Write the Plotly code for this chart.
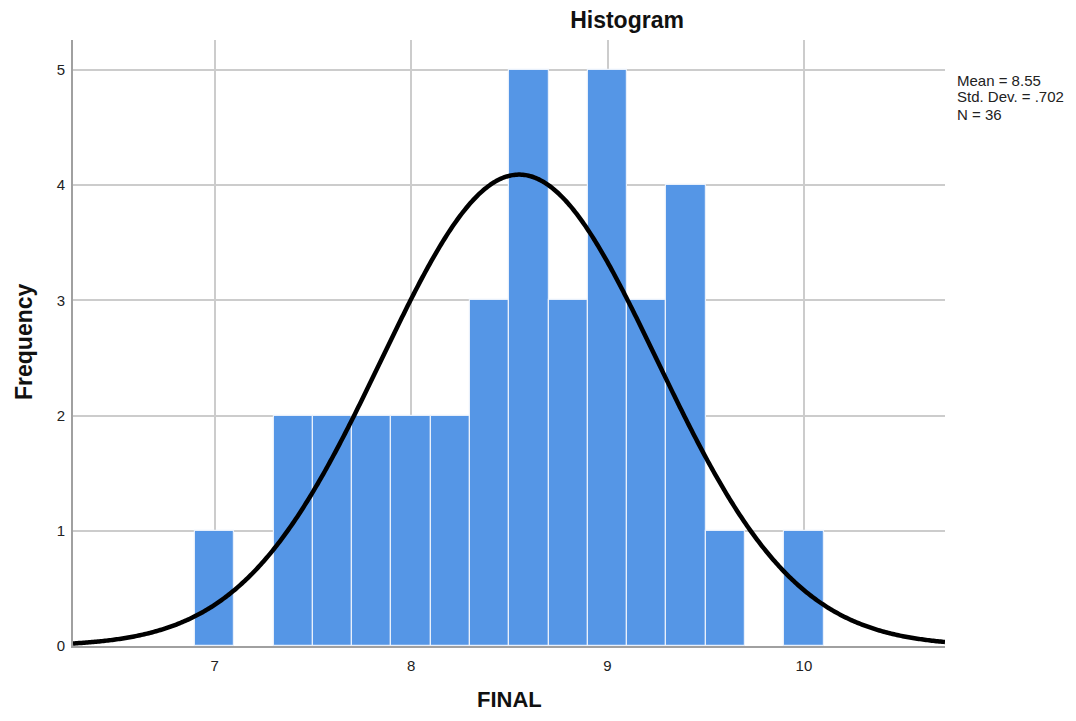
import numpy as np
import plotly.graph_objects as go

# Data
bin_centers = [7.0, 7.4, 7.6, 7.8, 8.0, 8.2, 8.4, 8.6, 8.8, 9.0, 9.2, 9.4, 9.6, 10.0]
frequencies = [1, 2, 2, 2, 2, 2, 3, 5, 3, 5, 3, 4, 1, 1]
bin_width = 0.2
mean_val = 8.55
std_val = 0.702
n_val = 36
x_ticks = [7, 8, 9, 10]
y_ticks = [0, 1, 2, 3, 4, 5]
stats_lines = ["Mean = 8.55", "Std. Dev. = .702", "N = 36"]

x_min, x_max = 6.279, 10.718

# Fitted normal curve from the stated statistics
xs = np.linspace(x_min, x_max, 600)
ys = n_val * bin_width * np.exp(-0.5 * ((xs - mean_val) / std_val) ** 2) / (std_val * np.sqrt(2 * np.pi))

W, H = 1060, 705
L, R, T, B = 65, 123, 32, 67
pw, ph = W - L - R, H - T - B


def px_x(x):
    return (x - L) / pw


def px_y(y):
    return 1 - (y - T) / ph


fig = go.Figure()
fig.add_trace(go.Bar(
    x=bin_centers, y=frequencies, width=bin_width,
    marker=dict(color="#5596E6", line=dict(color="#E8F0FB", width=1.2)),
    hoverinfo="x+y", showlegend=False,
))
fig.add_trace(go.Scatter(
    x=xs, y=ys, mode="lines",
    line=dict(color="black", width=4.5, simplify=False), showlegend=False, hoverinfo="skip",
))

fig.update_layout(
    width=W, height=H,
    margin=dict(l=L, r=R, t=T, b=B),
    paper_bgcolor="white", plot_bgcolor="white",
    font=dict(family="Liberation Sans, Arial, sans-serif", color="#222222"),
    bargap=0,
    title=dict(text="<b>Histogram</b>", x=619 / W, xanchor="center", y=1 - 12 / H, yanchor="middle",
               font=dict(size=23, color="#111111")),
    xaxis=dict(
        range=[x_min, x_max], tickvals=x_ticks, ticktext=[str(v) for v in x_ticks],
        showgrid=True, gridcolor="#CCCCCC", gridwidth=1.5,
        showline=True, linecolor="#A0A0A0", linewidth=2, zeroline=False,
        ticks="", tickfont=dict(size=15, color="#222222"), ticklabelstandoff=5,
    ),
    yaxis=dict(
        range=[0, 5.26], tickvals=y_ticks, ticktext=[str(v) for v in y_ticks],
        showgrid=True, gridcolor="#CCCCCC", gridwidth=1.5,
        showline=True, linecolor="#A0A0A0", linewidth=2, zeroline=False,
        ticks="", tickfont=dict(size=15, color="#222222"), ticklabelstandoff=3,
    ),
)

# Axis titles
fig.add_annotation(text="<b>Frequency</b>", xref="paper", yref="paper",
                   x=px_x(16), y=px_y(334), textangle=-90, showarrow=False,
                   xanchor="center", yanchor="middle", font=dict(size=23, color="#111111"))
fig.add_annotation(text="<b>FINAL</b>", xref="paper", yref="paper",
                   x=px_x(502), y=px_y(691), showarrow=False,
                   xanchor="center", yanchor="middle", font=dict(size=22, color="#111111"))

# Statistics box
for i, line in enumerate(stats_lines):
    fig.add_annotation(text=line, xref="paper", yref="paper",
                       x=px_x(947), y=px_y(72 + 17 * i), showarrow=False,
                       xanchor="left", yanchor="middle", align="left",
                       font=dict(size=15, color="#222222"))

fig.write_html("out.html")
